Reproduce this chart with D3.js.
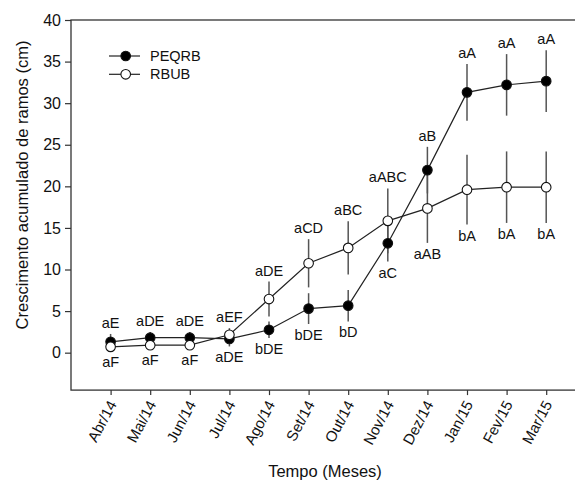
<!DOCTYPE html>
<html>
<head>
<meta charset="utf-8">
<script src="https://cdn.jsdelivr.net/npm/d3@7"></script>
<style>
  html, body { margin: 0; padding: 0; background: #fff; }
  svg { display: block; }
  text { font-family: "Liberation Sans", Arial, sans-serif; fill: #111; }
</style>
</head>
<body>
<script>
// ---- data ----
const months = ["Abr/14","Mai/14","Jun/14","Jul/14","Ago/14","Set/14","Out/14","Nov/14","Dez/14","Jan/15","Fev/15","Mar/15"];
const peqrb    = [1.3, 1.8, 1.8, 1.65, 2.75, 5.3, 5.65, 13.15, 21.95, 31.3, 32.2, 32.65];
const peqrbErr = [0.95, 0.7, 0.7, 0.9, 1.0, 1.85, 1.9, 2.2, 2.8, 3.4, 3.7, 3.7];
const rbub     = [0.7, 0.9, 0.9, 2.15, 6.45, 10.75, 12.6, 15.85, 17.35, 19.6, 19.9, 19.9];
const rbubErr  = [0.5, 0.5, 0.5, 0.8, 2.1, 2.9, 3.2, 3.9, 4.15, 4.2, 4.3, 4.3];
const peqrbLetters = ["aE","aDE","aDE","aDE","bDE","bDE","bD","aC","aB","aA","aA","aA"];
const rbubLetters  = ["aF","aF","aF","aEF","aDE","aCD","aBC","aABC","aAB","bA","bA","bA"];
const yTicks = [0, 5, 10, 15, 20, 25, 30, 35, 40];
const seriesNames = ["PEQRB", "RBUB"];

const W = 575, H = 483;
const svg = d3.select("body").append("svg").attr("width", W).attr("height", H);

const x = d3.scaleLinear().domain([-1, 12]).range([71, 585.8]);
const y = d3.scaleLinear().domain([-4.5, 40]).range([390.1, 20]);

const axisColor = "#333";

// frame (top, bottom, left; right side falls outside the canvas)
svg.append("rect")
  .attr("x", x(-1)).attr("y", y(40))
  .attr("width", x(12) - x(-1)).attr("height", y(-4.5) - y(40))
  .attr("fill", "none").attr("stroke", axisColor).attr("stroke-width", 1.3);

// y axis
const yAxis = d3.axisLeft(y).tickValues(yTicks).tickSize(6).tickPadding(4);
const gy = svg.append("g").attr("transform", `translate(${x(-1)},0)`).call(yAxis);
gy.select(".domain").remove();
gy.selectAll(".tick line").attr("stroke", axisColor).attr("stroke-width", 1.2);
gy.selectAll(".tick text").style("font-size", "16px").attr("fill", "#111")
  .style("font-family", "'Liberation Sans', Arial, sans-serif");

// x axis
const xAxis = d3.axisBottom(x).tickValues(d3.range(months.length))
  .tickFormat(i => months[i]).tickSize(5).tickPadding(0);
const gx = svg.append("g").attr("transform", `translate(0,${y(-4.5)})`).call(xAxis);
gx.select(".domain").remove();
gx.selectAll(".tick line").attr("stroke", axisColor).attr("stroke-width", 1.2);
gx.selectAll(".tick text")
  .style("font-size", "15px").attr("fill", "#111")
  .style("font-family", "'Liberation Sans', Arial, sans-serif")
  .attr("text-anchor", "end")
  .attr("dy", null).attr("y", 0)
  .attr("transform", "translate(6,14) rotate(-62)");

// axis titles
svg.append("text")
  .attr("transform", `translate(28,185) rotate(-90)`)
  .attr("text-anchor", "middle").style("font-size", "16.5px")
  .text("Crescimento acumulado de ramos (cm)");
svg.append("text")
  .attr("x", 325).attr("y", 477)
  .attr("text-anchor", "middle").style("font-size", "16.5px")
  .text("Tempo (Meses)");

const idx = d3.range(months.length);
const series = [
  { name: seriesNames[0], vals: peqrb, err: peqrbErr, letters: peqrbLetters, fill: "#000" },
  { name: seriesNames[1], vals: rbub,  err: rbubErr,  letters: rbubLetters,  fill: "#fff" }
];

// error bars
series.forEach(s => {
  svg.append("g").selectAll("line").data(idx).join("line")
    .attr("x1", i => x(i)).attr("x2", i => x(i))
    .attr("y1", i => y(s.vals[i] - s.err[i]))
    .attr("y2", i => y(s.vals[i] + s.err[i]))
    .attr("stroke", "#555").attr("stroke-width", 1.5);
});

// lines
const line = d3.line().x(d => x(d[0])).y(d => y(d[1]));
series.forEach(s => {
  svg.append("path")
    .attr("d", line(idx.map(i => [i, s.vals[i]])))
    .attr("fill", "none").attr("stroke", "#222").attr("stroke-width", 1.2);
});

// markers
series.forEach(s => {
  svg.append("g").selectAll("circle").data(idx).join("circle")
    .attr("cx", i => x(i)).attr("cy", i => y(s.vals[i]))
    .attr("r", 4.8)
    .attr("fill", s.fill).attr("stroke", "#111").attr("stroke-width", 1.1);
});

// significance letters: higher series above, lower below
idx.forEach(i => {
  const a = series[0], b = series[1];
  const top = a.vals[i] >= b.vals[i] ? a : b;
  const bot = top === a ? b : a;
  svg.append("text")
    .attr("x", x(i)).attr("y", y(top.vals[i] + top.err[i]) - 6)
    .attr("text-anchor", "middle").style("font-size", "14.5px")
    .text(top.letters[i]);
  svg.append("text")
    .attr("x", x(i)).attr("y", y(bot.vals[i] - bot.err[i]) + 16)
    .attr("text-anchor", "middle").style("font-size", "14.5px")
    .text(bot.letters[i]);
});

// legend
const leg = svg.append("g");
series.forEach((s, k) => {
  const ly = 56 + k * 18.3;
  leg.append("line").attr("x1", 109).attr("x2", 140).attr("y1", ly).attr("y2", ly)
    .attr("stroke", "#222").attr("stroke-width", 1.2);
  leg.append("circle").attr("cx", 125.7).attr("cy", ly).attr("r", 4.8)
    .attr("fill", s.fill).attr("stroke", "#111").attr("stroke-width", 1.1);
  leg.append("text").attr("x", 150).attr("y", ly + 5)
    .style("font-size", "14.5px").text(s.name);
});
</script>
</body>
</html>
